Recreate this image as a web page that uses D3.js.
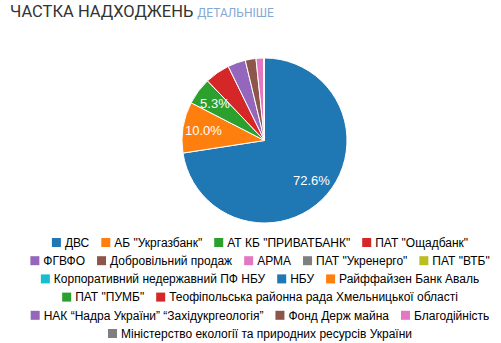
<!DOCTYPE html>
<html>
<head>
<meta charset="utf-8">
<script src="https://cdn.jsdelivr.net/npm/d3@7"></script>
<style>
  body { margin: 0; background: #fff; }
  svg { display: block; }
</style>
</head>
<body>
<svg id="chart" width="501" height="343"></svg>
<script>
// sources of income (order as in legend)
var categories = [
    "ДВС", "АБ \"Укргазбанк\"", "АТ КБ \"ПРИВАТБАНК\"", "ПАТ \"Ощадбанк\"",
    "ФГВФО", "Добровільний продаж", "АРМА", "ПАТ \"Укренерго\"", "ПАТ \"ВТБ\"",
    "Корпоративний недержавний ПФ НБУ", "НБУ", "Райффайзен Банк Аваль",
    "ПАТ \"ПУМБ\"", "Теофіпольська районна рада Хмельницької області",
    "НАК “Надра України” “Західукргеологія”", "Фонд Держ майна", "Благодійність",
    "Міністерство екології та природних ресурсів України"
];
// share, %
var shares = [72.6, 10.0, 5.3, 4.9, 3.5, 2.1, 1.5, 0.03, 0.02, 0.02, 0.01, 0.01, 0.01, 0.01, 0.01, 0.01, 0.01, 0.01];
// how many legend items go on each row
var legendRows = [4, 5, 3, 2, 3, 1];

var svg = d3.select("#chart");

// title
var title = svg.append("text")
    .attr("x", 10)
    .attr("y", 17)
    .style("font-family", "Roboto, 'Liberation Sans', Arial, sans-serif")
    .style("font-size", "16.5px")
    .style("fill", "#333");
title.append("tspan").text("ЧАСТКА НАДХОДЖЕНЬ");
title.append("tspan")
    .attr("dx", 4)
    .style("font-size", "12px")
    .style("fill", "#85a9d3")
    .text("ДЕТАЛЬНІШЕ");

var color = d3.scaleOrdinal()
    .domain(categories)
    .range(d3.schemeCategory10);

var data = categories.map(function(c, i) { return {name: c, value: shares[i]}; });

var cx = 264.5, cy = 140.5, r = 82.5;

var pie = d3.pie()
    .sort(null)
    .value(function(d) { return d.value; });

var arc = d3.arc().innerRadius(0).outerRadius(r);
var labelArc = d3.arc().innerRadius(r * 0.75).outerRadius(r * 0.75);

var g = svg.append("g").attr("transform", "translate(" + cx + "," + cy + ")");

var slices = pie(data);

g.selectAll("path")
    .data(slices)
    .enter().append("path")
    .attr("d", arc)
    .attr("fill", function(d) { return color(d.data.name); })
    .attr("stroke", "#fff")
    .attr("stroke-width", 1);

var total = d3.sum(shares);
g.selectAll("text")
    .data(slices.filter(function(d) { return d.data.value / total > 0.05; }))
    .enter().append("text")
    .attr("transform", function(d) { return "translate(" + labelArc.centroid(d) + ")"; })
    .attr("text-anchor", "middle")
    .attr("dy", "0.35em")
    .style("font-family", "'Liberation Sans', Arial, sans-serif")
    .style("font-size", "13px")
    .style("fill", "#fff")
    .text(function(d) { return d3.format(".1f")(d.data.value / total * 100) + "%"; });

// legend, centered rows
var legend = svg.append("g")
    .style("font-family", "'Liberation Sans', Arial, sans-serif")
    .style("font-size", "12px");

var idx = 0;
var rowY = 242.5, rowStep = 18.2, legendCenter = 260;
legendRows.forEach(function(n, row) {
    var items = categories.slice(idx, idx + n);
    idx += n;
    var rowG = legend.append("g");
    var x = 0;
    items.forEach(function(name) {
        var item = rowG.append("g").attr("transform", "translate(" + x + ",0)");
        item.append("rect")
            .attr("x", 0)
            .attr("y", -4.5)
            .attr("width", 9)
            .attr("height", 9)
            .attr("fill", color(name));
        var t = item.append("text")
            .attr("x", 13)
            .attr("dy", "0.35em")
            .style("fill", "#000")
            .text(name);
        x += 13 + t.node().getComputedTextLength() + 12;
    });
    var w = x - 12;
    rowG.attr("transform", "translate(" + (legendCenter - w / 2) + "," + (rowY + row * rowStep) + ")");
});
</script>
</body>
</html>
